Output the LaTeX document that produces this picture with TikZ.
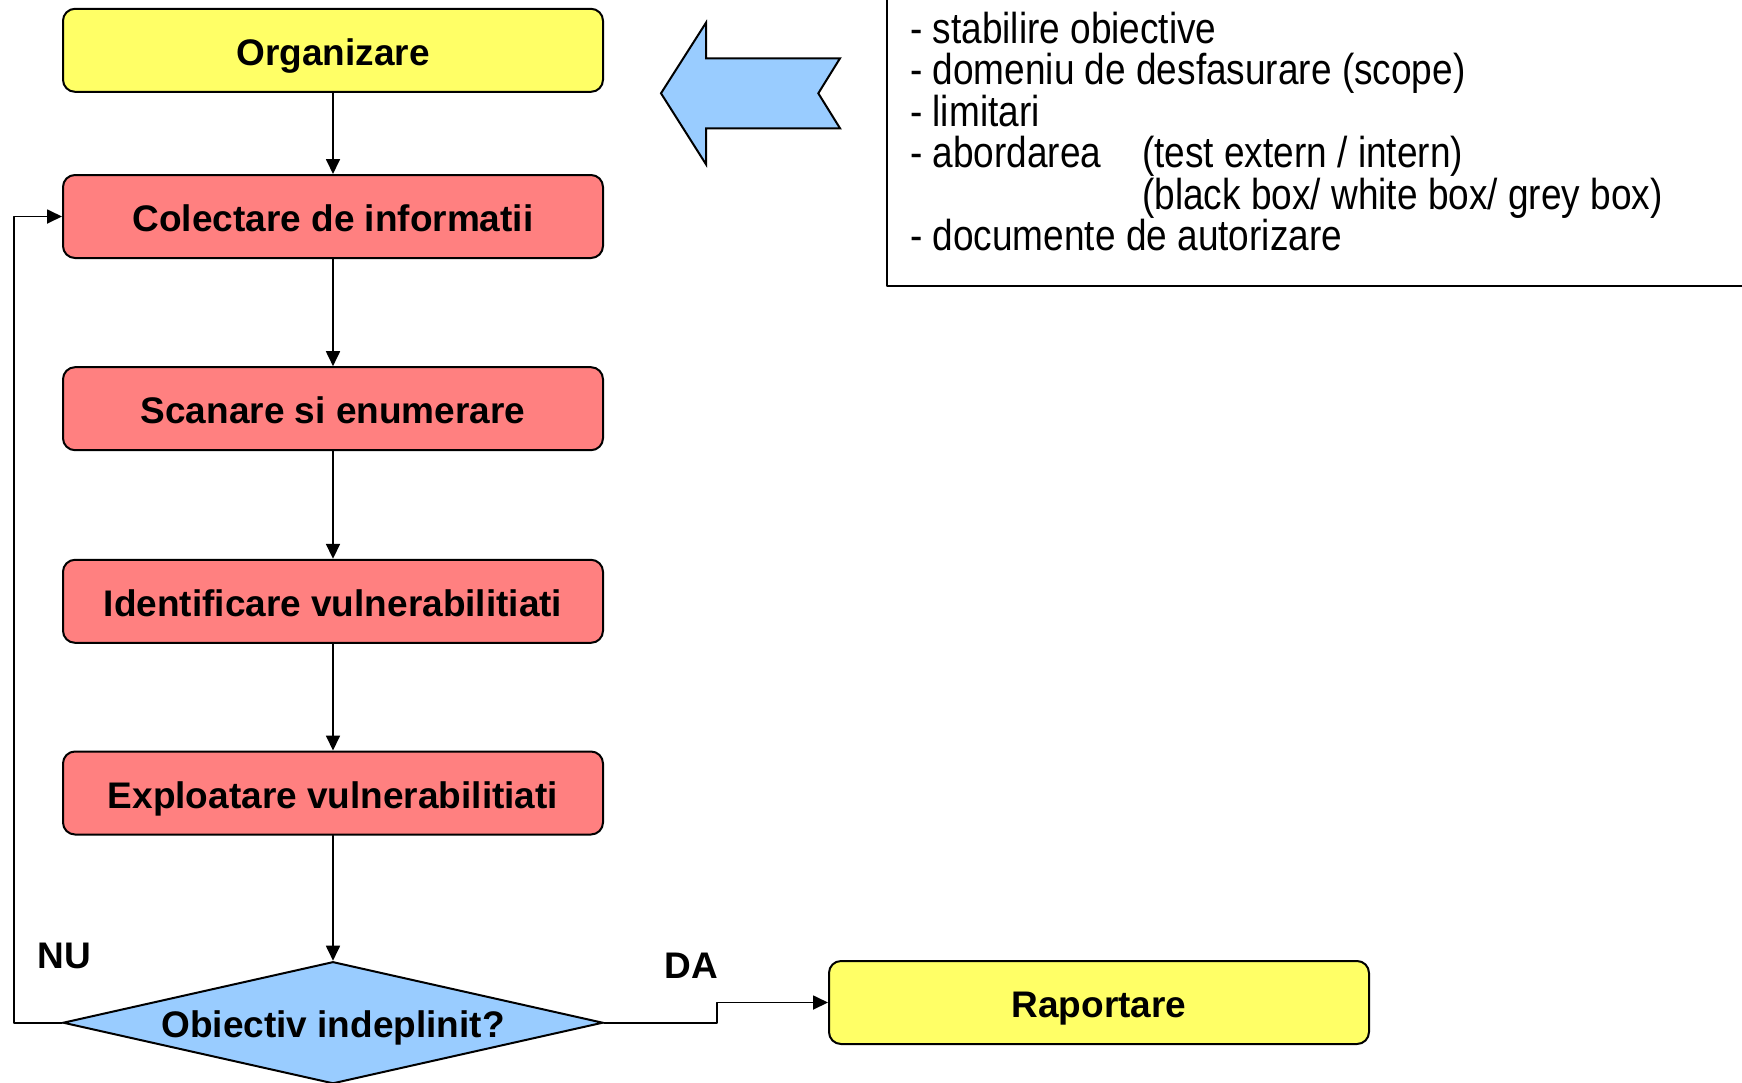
\documentclass[tikz,border=0pt]{standalone}
\usepackage{fontspec}
\setmainfont{Liberation Sans}
\usepackage{tikz}
\usetikzlibrary{arrows.meta,shapes.geometric}
\definecolor{ffffzz}{rgb}{1.,1.,0.4}
\definecolor{ffwwww}{rgb}{1.,0.5019607843137255,0.5019607843137255}
\definecolor{wwccff}{rgb}{0.6,0.8,1.}

\begin{document}
\begin{tikzpicture}[line cap=round,line join=round,>={Triangle[length=15pt,width=14pt]},x=1pt,y=-1pt,
  etapa/.style={draw,line width=2pt,rounded corners=12pt,minimum width=540pt,minimum height=83pt,inner sep=0pt,font=\fontsize{37}{44}\selectfont\bfseries,text height=30pt,text depth=0pt},
  flux/.style={->,line width=1.8pt},
  eticheta/.style={anchor=base,inner sep=0pt,font=\fontsize{37}{44}\selectfont\bfseries}]
\useasboundingbox (0,0) rectangle (1742,1082);
\clip (0,0) rectangle (1742,1082);
% etapele
\node[etapa,fill=ffffzz] (org) at (333,50.3) {Organizare};
\node[etapa,fill=ffwwww] (col) at (333,216.5) {Colectare de informatii};
\node[etapa,fill=ffwwww] (scan) at (333,408.7) {Scanare si enumerare};
\node[etapa,fill=ffwwww] (ident) at (333,601.3) {Identificare vulnerabilitiati};
\node[etapa,fill=ffwwww] (expl) at (333,793) {Exploatare vulnerabilitiati};
\node[draw,diamond,aspect=4.43,fill=wwccff,line width=2pt,line join=miter,minimum width=540pt,minimum height=122pt,inner sep=0pt,font=\fontsize{37}{44}\selectfont\bfseries,text height=30pt,text depth=0pt] (dec) at (333,1022.7) {Obiectiv indeplinit?};
\node[etapa,fill=ffffzz] (rap) at (1099,1002.5) {Raportare};
\foreach \a/\b in {org/col,col/scan,scan/ident,ident/expl,expl/dec}
  \draw[flux] (\a) -- (\b);
\draw[flux] (dec.west) -- ++(-48,0) |- (col.west);
\draw[flux] (dec.east) -- ++(113,0) |- (rap.west);
\node[eticheta] (nu) at (64.5,968) {NU};
\node[eticheta] (da) at (691,978.3) {DA};
% sageata si caseta
\draw[line width=2pt,line join=miter,fill=wwccff] (661,93.3) -- (706,22.7) -- (706,58.3) -- (840,58.3) -- (818.3,93.3) -- (840,128.3) -- (706,128.3) -- (706,164.3) -- cycle;
\draw[line width=2pt] (887,-10) rectangle (1760,286);
\node[anchor=base west,yscale=1.17,inner sep=0pt,font=\fontsize{37}{28.7}\selectfont] (lista) at (910,43.3) {\begin{tabular}[t]{@{}p{232pt}@{}l@{}}
\multicolumn{2}{@{}l@{}}{- stabilire obiective}\\
\multicolumn{2}{@{}l@{}}{- domeniu de desfasurare (scope)}\\
\multicolumn{2}{@{}l@{}}{- limitari}\\
- abordarea & (test extern / intern)\\
 & (black box/ white box/ grey box)\\
\multicolumn{2}{@{}l@{}}{- documente de autorizare}
\end{tabular}};
\end{tikzpicture}
\end{document}
